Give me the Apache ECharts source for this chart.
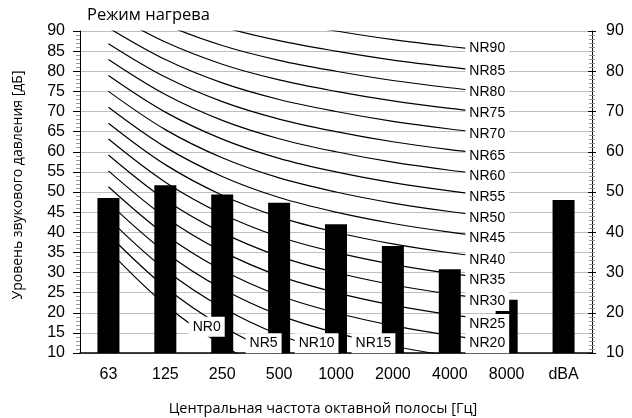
<!DOCTYPE html>
<html>
<head>
<meta charset="utf-8">
<script src="https://cdn.jsdelivr.net/npm/echarts@6/dist/echarts.min.js"></script>
<style>html,body{margin:0;padding:0;background:#fff}#c{width:632px;height:418px}</style>
</head>
<body>
<div id="c"></div>
<script>
var categories = ['63', '125', '250', '500', '1000', '2000', '4000', '8000', 'dBA'];
var levels = [48.5, 51.7, 49.4, 47.3, 42.0, 36.6, 30.8, 23.2, 48.0];

// NR curves, values at 63..8000 Hz
var NR0  = [35.5, 22.0, 12.0, 4.8, 0, -3.5, -6.1, -8.0];
var NR5  = [39.45, 26.35, 16.65, 9.67, 5, 1.58, -0.98, -2.85];
var NR10 = [43.4, 30.7, 21.3, 14.54, 10, 6.65, 4.15, 2.3];
var NR15 = [47.35, 35.05, 25.95, 19.41, 15, 11.73, 9.28, 7.45];
var NR20 = [51.3, 39.4, 30.6, 24.28, 20, 16.8, 14.4, 12.6];
var NR25 = [55.25, 43.75, 35.25, 29.15, 25, 21.88, 19.53, 17.75];
var NR30 = [59.2, 48.1, 39.9, 34.02, 30, 26.95, 24.65, 22.9];
var NR35 = [63.15, 52.45, 44.55, 38.89, 35, 32.03, 29.78, 28.05];
var NR40 = [67.1, 56.8, 49.2, 43.76, 40, 37.1, 34.9, 33.2];
var NR45 = [71.05, 61.15, 53.85, 48.63, 45, 42.18, 40.03, 38.35];
var NR50 = [75.0, 65.5, 58.5, 53.5, 50, 47.25, 45.15, 43.5];
var NR55 = [78.95, 69.85, 63.15, 58.37, 55, 52.33, 50.28, 48.65];
var NR60 = [82.9, 74.2, 67.8, 63.24, 60, 57.4, 55.4, 53.8];
var NR65 = [86.85, 78.55, 72.45, 68.11, 65, 62.48, 60.53, 58.95];
var NR70 = [90.8, 82.9, 77.1, 72.98, 70, 67.55, 65.65, 64.1];
var NR75 = [94.75, 87.25, 81.75, 77.85, 75, 72.63, 70.78, 69.25];
var NR80 = [98.7, 91.6, 86.4, 82.72, 80, 77.7, 75.9, 74.4];
var NR85 = [102.65, 95.95, 91.05, 87.59, 85, 82.78, 81.03, 79.55];
var NR90 = [106.6, 100.3, 95.7, 92.46, 90, 87.85, 86.15, 84.7];

var nrNames = ['NR0','NR5','NR10','NR15','NR20','NR25','NR30','NR35','NR40','NR45','NR50','NR55','NR60','NR65','NR70','NR75','NR80','NR85','NR90'];
var nrCurves = [NR0,NR5,NR10,NR15,NR20,NR25,NR30,NR35,NR40,NR45,NR50,NR55,NR60,NR65,NR70,NR75,NR80,NR85,NR90];
// where each curve's label sits: category and level
var nrLabelCat   = [2, 3, 4, 5, 7, 7, 7, 7, 7, 7, 7, 7, 7, 7, 7, 7, 7, 7, 7];
var nrLabelLevel = [16.5, 12.4, 12.4, 12.4, 12.4, 17.2, 22.9, 28.1, 33.0, 38.6, 43.6, 48.8, 54.0, 59.0, 64.3, 69.6, 74.8, 80.0, 85.7];

var yTicksLeft = {min: 10, max: 90, interval: 5};
var yTicksRight = {min: 10, max: 90, interval: 10};

var ARIAL = '"Liberation Sans", Arial, sans-serif';
var CAL = '"Open Sans", "Noto Sans", sans-serif';

var series = [];
nrCurves.forEach(function (c, i) {
  series.push({
    type: 'line', name: nrNames[i], data: c, smooth: 0.35, symbol: 'none',
    clip: true, silent: true, z: 2,
    lineStyle: {color: '#000', width: 1.2}
  });
});
series.push({
  type: 'bar', data: levels, barWidth: 22, z: 3, silent: true,
  itemStyle: {color: '#000'}
});
series.push({
  type: 'scatter', z: 5, silent: true, symbolSize: 1,
  itemStyle: {color: 'rgba(0,0,0,0)', opacity: 1},
  data: nrNames.map(function (n, i) { return {name: n, value: [nrLabelCat[i], nrLabelLevel[i]]}; }),
  label: {
    show: true, position: 'left', distance: -3, formatter: '{b}',
    fontSize: 14, fontFamily: ARIAL, color: '#000', opacity: 1,
    backgroundColor: '#ffffff', padding: [3, 4, 2, 4], lineHeight: 15
  }
});

var chart = echarts.init(document.getElementById('c'), null, {renderer: 'canvas'});
chart.setOption({
  animation: false,
  backgroundColor: '#fff',
  title: {
    text: 'Режим нагрева', left: 82, top: 2,
    textStyle: {fontFamily: CAL, fontSize: 16.5, fontWeight: 'normal', color: '#000'}
  },
  grid: {left: 80, right: 40, top: 31, bottom: 65, containLabel: false, outerBoundsMode: 'none'},
  xAxis: {
    type: 'category', data: categories, boundaryGap: true,
    axisLine: {lineStyle: {color: '#000', width: 1.5}},
    axisTick: {show: false},
    axisLabel: {fontSize: 16, fontFamily: ARIAL, color: '#000', margin: 14},
    name: 'Центральная частота октавной полосы [Гц]', nameLocation: 'middle', nameGap: 48,
    nameTextStyle: {fontFamily: CAL, fontSize: 14.5, color: '#000', padding: [0, 26, 0, 0]}
  },
  yAxis: [{
    type: 'value', position: 'left', min: yTicksLeft.min, max: yTicksLeft.max, interval: yTicksLeft.interval,
    axisLine: {show: true, lineStyle: {color: '#000'}},
    axisTick: {show: true, length: 7, lineStyle: {color: '#000'}},
    minorTick: {show: true, splitNumber: 5, length: 4, lineStyle: {color: '#999'}},
    splitLine: {show: true, lineStyle: {color: '#bfbfbf'}},
    axisLabel: {fontSize: 16, fontFamily: ARIAL, color: '#000', margin: 15},
    name: 'Уровень звукового давления [дБ]', nameLocation: 'middle', nameGap: 55,
    nameTextStyle: {fontFamily: CAL, fontSize: 14, color: '#000', padding: [0, 0, 0, 14]}
  }, {
    type: 'value', position: 'right', min: yTicksRight.min, max: yTicksRight.max, interval: yTicksRight.interval,
    axisLine: {show: true, lineStyle: {color: '#000'}},
    axisTick: {show: true, length: 4, lineStyle: {color: '#000'}},
    minorTick: {show: true, splitNumber: 10, length: 3, lineStyle: {color: '#999'}},
    splitLine: {show: false},
    axisLabel: {fontSize: 16, fontFamily: ARIAL, color: '#000', margin: 14}
  }, {
    type: 'value', position: 'right', min: yTicksRight.min, max: yTicksRight.max, interval: yTicksRight.interval,
    axisLine: {show: false},
    axisTick: {show: true, inside: true, length: 4, lineStyle: {color: '#000'}},
    minorTick: {show: true, splitNumber: 10, length: 3, lineStyle: {color: '#999'}},
    splitLine: {show: false},
    axisLabel: {show: false}
  }],
  series: series
});
</script>
</body>
</html>
